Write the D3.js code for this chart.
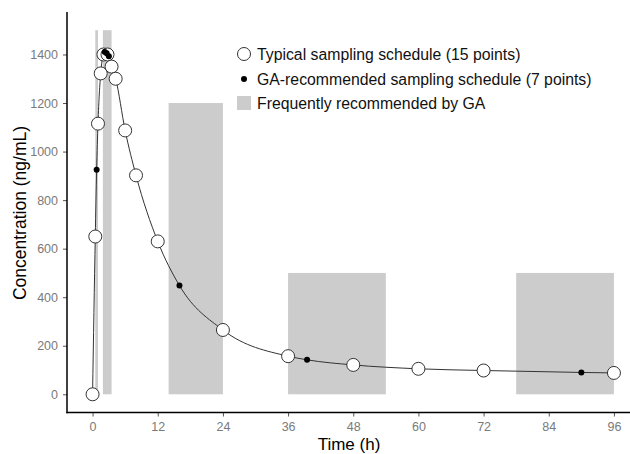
<!DOCTYPE html>
<html><head><meta charset="utf-8">
<script src="https://cdn.jsdelivr.net/npm/d3@7"></script>
<style>
body{margin:0;background:#fff;}
svg{display:block;font-family:"Liberation Sans",Arial,sans-serif;}
</style></head>
<body>
<svg id="chart" width="630" height="454"></svg>
<script>
// Typical sampling schedule (open circles)
const typicalTime = [0, 0.5, 1, 1.5, 2, 2.75, 3.5, 4.25, 6, 8, 12, 24, 36, 48, 60, 72, 96];
const typicalConc = [0, 650, 1115, 1322, 1400, 1400, 1350, 1300, 1087, 902, 630, 265, 157, 121, 105, 98, 88];
// GA-recommended sampling schedule (black dots)
const gaTime = [0.75, 2.25, 2.6, 3, 16, 39.5, 90];
const gaConc = [925, 1410, 1405, 1393, 448, 142, 90];
// Frequently recommended windows (grey bands)
const bandStart = [0.5, 1.9, 14, 36, 78];
const bandEnd   = [1.0, 3.5, 24, 54, 96];
const bandTop   = [1500, 1500, 1200, 500, 500];
// Axis ticks
const xTicks = [0, 12, 24, 36, 48, 60, 72, 84, 96];
const yTicks = [0, 200, 400, 600, 800, 1000, 1200, 1400];
const legendLabels = ["Typical sampling schedule (15 points)", "GA-recommended sampling schedule (7 points)", "Frequently recommended by GA"];

const svg = d3.select("#chart");
const x = d3.scaleLinear().domain([-4.8, 100.8]).range([66.5, 640]);
const y = d3.scaleLinear().domain([-75, 1575]).range([412.5, 12]);

const bands = bandStart.map((s, i) => ({s, e: bandEnd[i], top: bandTop[i]}));
svg.append("g").selectAll("rect").data(bands).join("rect")
  .attr("x", d => x(d.s)).attr("width", d => x(d.e) - x(d.s))
  .attr("y", d => y(d.top)).attr("height", d => y(0) - y(d.top))
  .attr("fill", "#cccccc");

const typical = typicalTime.map((t, i) => ({t, c: typicalConc[i]}));
const ga = gaTime.map((t, i) => ({t, c: gaConc[i]}));
const all = typical.concat(ga).sort((a, b) => a.t - b.t);

svg.append("path").datum(all)
  .attr("d", d3.line().x(d => x(d.t)).y(d => y(d.c)).curve(d3.curveMonotoneX))
  .attr("fill", "none").attr("stroke", "#333").attr("stroke-width", 1);

svg.append("g").selectAll("circle").data(typical).join("circle")
  .attr("cx", d => x(d.t)).attr("cy", d => y(d.c)).attr("r", 6.5)
  .attr("fill", "#fff").attr("stroke", "#333").attr("stroke-width", 1);

svg.append("g").selectAll("circle").data(ga).join("circle")
  .attr("cx", d => x(d.t)).attr("cy", d => y(d.c)).attr("r", 3)
  .attr("fill", "#000");

// Axes
const xAxis = svg.append("g").attr("transform", "translate(0,412.5)")
  .call(d3.axisBottom(x).tickValues(xTicks).tickFormat(d3.format("d")).tickSize(4).tickPadding(6));
const yAxis = svg.append("g").attr("transform", "translate(67,0)")
  .call(d3.axisLeft(y).tickValues(yTicks).tickFormat(d3.format("d")).tickSize(4).tickPadding(5));
[xAxis, yAxis].forEach(g => {
  g.select(".domain").remove();
  g.selectAll(".tick line").attr("stroke", "#555");
  g.selectAll(".tick text").attr("fill", "#7a7a7a").style("font-size", "12.5px")
    .style("font-family", "'Liberation Sans',Arial,sans-serif");
});
svg.append("line").attr("x1", 67).attr("x2", 67).attr("y1", 12).attr("y2", 413.2)
  .attr("stroke", "#000").attr("stroke-width", 1.5);
svg.append("line").attr("x1", 66.3).attr("x2", 630).attr("y1", 412.5).attr("y2", 412.5)
  .attr("stroke", "#000").attr("stroke-width", 1.5);

svg.append("text").attr("x", 349).attr("y", 450).attr("text-anchor", "middle")
  .style("font-size", "17px").attr("fill", "#000").text("Time (h)");
svg.append("text").attr("transform", "translate(26,213) rotate(-90)").attr("text-anchor", "middle")
  .style("font-size", "17.5px").attr("fill", "#000").text("Concentration (ng/mL)");

// Legend
const lg = svg.append("g");
const ly = [54, 79, 103];
lg.append("circle").attr("cx", 244).attr("cy", ly[0]).attr("r", 6.5)
  .attr("fill", "#fff").attr("stroke", "#333");
lg.append("circle").attr("cx", 244).attr("cy", ly[1]).attr("r", 3).attr("fill", "#000");
lg.append("rect").attr("x", 237).attr("y", ly[2] - 7).attr("width", 14).attr("height", 14).attr("fill", "#cccccc");
legendLabels.forEach((t, i) => {
  lg.append("text").attr("x", 257).attr("y", ly[i]).attr("dy", "0.35em")
    .style("font-size", "15.8px").attr("fill", "#111").text(t);
});
</script>
</body></html>
